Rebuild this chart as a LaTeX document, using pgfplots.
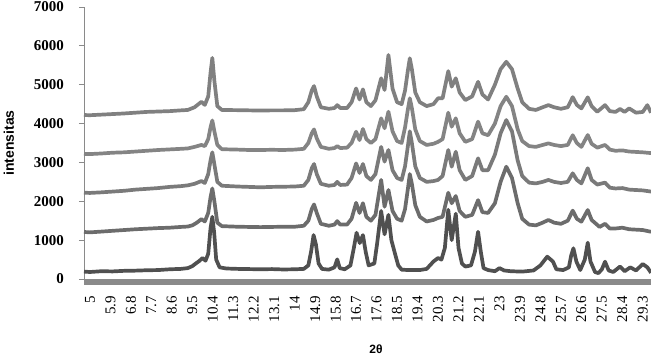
\documentclass[border=0pt]{standalone}
\usepackage{fontspec}
\setmainfont{Liberation Serif}
\setsansfont{Liberation Sans}
\usepackage{pgfplots}
\pgfplotsset{compat=1.18}
\definecolor{cA}{HTML}{505050}
\definecolor{cB}{HTML}{6C6C6C}
\definecolor{cC}{HTML}{7A7A7A}
\definecolor{cD}{HTML}{848484}
\definecolor{cE}{HTML}{808080}
\definecolor{cAx}{HTML}{8A8A8A}
\begin{document}
\begin{tikzpicture}
\path[use as bounding box] (-84pt,-79pt) rectangle (567pt,279pt);
\begin{axis}[
  at={(0,0)}, anchor=south west,
  scale only axis, width=567pt, height=272pt,
  xmin=4.74, xmax=29.66, ymin=0, ymax=7000,
  axis x line=bottom, axis y line=left,
  axis line style={-},
  x axis line style={-, line width=6pt, color=cAx, yshift=-3pt},
  y axis line style={-, line width=0.9pt, color=cAx},
  scaled y ticks=false,
  /pgf/number format/assume math mode=true,
  /pgf/number format/1000 sep={},
  ytick={0,1000,...,7000},
  ytick pos=left, tick align=outside,
  major tick length=5pt,
  ytick style={draw=cAx, line width=0.9pt},
  yticklabel style={font=\bfseries\fontsize{15}{15}\selectfont, anchor=east, inner sep=0pt, xshift=-15pt},
  xtick={5,5.9,6.8,7.7,8.6,9.5,10.4,11.3,12.2,13.1,14,14.9,15.8,16.7,17.6,18.5,19.4,20.3,21.2,22.1,23,23.9,24.8,25.7,26.6,27.5,28.4,29.3},
  xticklabels={5,5.9,6.8,7.7,8.6,9.5,10.4,11.3,12.2,13.1,14,14.9,15.8,16.7,17.6,18.5,19.4,20.3,21.2,22.1,23,23.9,24.8,25.7,26.6,27.5,28.4,29.3},
  xtick style={draw=none},
  xticklabel style={rotate=90, anchor=east, inner sep=0pt, font=\fontsize{15}{15}\selectfont, xshift=-12pt},
  ylabel={intensitas},
  ylabel style={font=\sffamily\bfseries\fontsize{14}{14}\selectfont, at={(axis description cs:-0.1323,0.5)}, anchor=center},
  xlabel={2θ},
  xlabel style={font=\sffamily\bfseries\fontsize{12}{12}\selectfont, inner sep=0pt, at={(axis description cs:0.515,-0.257)}, anchor=center},
  every axis plot/.append style={line width=3.7pt, line join=round, mark=none},
]
% S5
\addplot[cE] coordinates {(4.74,4220) (5,4215) (5.5,4230) (6,4245) (6.5,4260) (7,4280) (7.5,4300) (8,4310) (8.5,4320) (9,4340) (9.3,4350) (9.6,4420) (9.9,4560) (10.05,4480) (10.2,4700) (10.3,5300) (10.38,5690) (10.47,5100) (10.6,4450) (10.8,4350) (11.5,4345) (12,4340) (12.5,4335) (13,4340) (13.5,4340) (14,4345) (14.4,4370) (14.6,4550) (14.75,4850) (14.85,4965) (14.97,4700) (15.15,4420) (15.5,4380) (15.75,4400) (15.87,4475) (16.0,4400) (16.3,4400) (16.5,4550) (16.7,4905) (16.85,4620) (17.0,4880) (17.15,4550) (17.35,4450) (17.55,4600) (17.8,5165) (17.95,4865) (18.12,5765) (18.3,4900) (18.5,4550) (18.7,4500) (18.85,4850) (18.97,5350) (19.06,5680) (19.15,5400) (19.3,4800) (19.5,4550) (19.8,4450) (20.1,4500) (20.3,4650) (20.5,4650) (20.75,5350) (20.9,4950) (21.08,5165) (21.25,4800) (21.5,4605) (21.8,4700) (22.06,5075) (22.25,4750) (22.5,4620) (22.8,5000) (23.05,5400) (23.3,5590) (23.55,5400) (23.8,4900) (24.0,4550) (24.3,4380) (24.6,4350) (24.9,4420) (25.15,4475) (25.4,4420) (25.7,4380) (26.0,4420) (26.22,4680) (26.4,4480) (26.6,4390) (26.88,4675) (27.05,4450) (27.3,4305) (27.64,4475) (27.85,4320) (28.1,4300) (28.3,4375) (28.5,4300) (28.7,4390) (29.0,4280) (29.3,4300) (29.5,4475) (29.66,4280)};
% S4
\addplot[cD] coordinates {(4.74,3220) (5,3215) (5.5,3230) (6,3250) (6.5,3260) (7,3280) (7.5,3300) (8,3320) (8.5,3335) (9,3350) (9.3,3360) (9.6,3400) (9.9,3450) (10.05,3420) (10.2,3600) (10.3,3900) (10.38,4080) (10.47,3800) (10.6,3450) (10.8,3340) (11.5,3330) (12,3320) (12.5,3320) (13,3325) (13.5,3320) (14,3330) (14.4,3350) (14.6,3500) (14.75,3750) (14.85,3850) (14.97,3620) (15.15,3400) (15.5,3350) (15.75,3370) (15.87,3420) (16.0,3370) (16.3,3380) (16.5,3500) (16.7,3790) (16.85,3575) (17.0,3860) (17.15,3600) (17.35,3500) (17.55,3600) (17.8,4135) (17.95,3880) (18.12,4305) (18.3,3800) (18.5,3550) (18.7,3500) (18.85,3900) (18.97,4350) (19.06,4650) (19.15,4400) (19.3,3850) (19.5,3550) (19.8,3450) (20.1,3480) (20.3,3530) (20.5,3600) (20.75,4280) (20.9,3920) (21.08,4135) (21.25,3750) (21.5,3530) (21.8,3600) (22.06,4050) (22.25,3750) (22.5,3700) (22.8,4000) (23.05,4450) (23.3,4690) (23.55,4450) (23.8,3850) (24.0,3550) (24.3,3420) (24.6,3400) (24.9,3450) (25.15,3490) (25.4,3450) (25.7,3420) (26.0,3450) (26.22,3700) (26.4,3500) (26.6,3400) (26.88,3705) (27.05,3480) (27.3,3380) (27.64,3450) (27.85,3330) (28.1,3300) (28.4,3310) (28.7,3280) (29,3270) (29.3,3260) (29.66,3240)};
% S3
\addplot[cC] coordinates {(4.74,2220) (5,2215) (5.5,2230) (6,2250) (6.5,2270) (7,2300) (7.5,2320) (8,2340) (8.5,2370) (9,2390) (9.3,2410) (9.6,2450) (9.9,2520) (10.05,2470) (10.2,2700) (10.3,3050) (10.38,3260) (10.47,2950) (10.6,2500) (10.8,2400) (11.5,2380) (12,2370) (12.5,2360) (13,2370) (13.5,2375) (14,2380) (14.4,2400) (14.6,2550) (14.75,2850) (14.85,2960) (14.97,2700) (15.15,2450) (15.5,2400) (15.75,2420) (15.87,2500) (16.0,2420) (16.3,2430) (16.5,2600) (16.7,2975) (16.85,2730) (17.0,2960) (17.15,2650) (17.35,2550) (17.55,2700) (17.8,3400) (17.95,3020) (18.12,3320) (18.3,2800) (18.5,2600) (18.7,2550) (18.85,2900) (18.97,3400) (19.06,3800) (19.15,3500) (19.3,2900) (19.5,2600) (19.8,2500) (20.1,2520) (20.3,2550) (20.5,2650) (20.75,3320) (20.9,2890) (21.08,3275) (21.25,2800) (21.5,2550) (21.8,2650) (22.06,3105) (22.25,2800) (22.5,2800) (22.8,3200) (23.05,3750) (23.3,4090) (23.55,3800) (23.8,3050) (24.0,2650) (24.3,2480) (24.6,2460) (24.9,2500) (25.15,2550) (25.4,2500) (25.7,2470) (26.0,2500) (26.22,2720) (26.4,2550) (26.6,2460) (26.88,2850) (27.05,2550) (27.3,2430) (27.64,2480) (27.85,2350) (28.1,2330) (28.4,2340) (28.7,2300) (29,2290) (29.3,2280) (29.66,2250)};
% S2
\addplot[cB] coordinates {(4.74,1210) (5,1200) (5.5,1220) (6,1240) (6.5,1260) (7,1280) (7.5,1295) (8,1310) (8.5,1320) (9,1340) (9.3,1350) (9.5,1380) (9.7,1450) (9.9,1540) (10.05,1480) (10.2,1700) (10.3,2100) (10.38,2330) (10.47,2000) (10.6,1450) (10.8,1360) (11.5,1345) (12,1340) (12.5,1335) (13,1340) (13.5,1345) (14,1345) (14.4,1370) (14.6,1500) (14.75,1800) (14.85,1920) (14.97,1700) (15.15,1420) (15.5,1370) (15.75,1400) (15.87,1490) (16.0,1400) (16.3,1400) (16.5,1550) (16.7,1960) (16.85,1700) (17.0,1950) (17.15,1600) (17.35,1500) (17.55,1650) (17.8,2550) (17.95,1860) (18.12,2290) (18.3,1750) (18.5,1550) (18.7,1500) (18.85,1800) (18.97,2300) (19.06,2700) (19.15,2450) (19.3,1900) (19.5,1600) (19.8,1480) (20.1,1520) (20.3,1570) (20.5,1600) (20.75,2220) (20.9,1950) (21.08,2135) (21.25,1750) (21.5,1600) (21.8,1650) (22.06,2030) (22.25,1720) (22.5,1700) (22.8,1950) (23.05,2500) (23.3,2890) (23.55,2600) (23.8,1950) (24.0,1550) (24.3,1400) (24.6,1380) (24.9,1450) (25.15,1520) (25.4,1450) (25.7,1420) (26.0,1500) (26.22,1760) (26.4,1550) (26.6,1475) (26.88,1775) (27.05,1520) (27.4,1340) (27.64,1420) (27.85,1300) (28.1,1300) (28.4,1320) (28.7,1280) (29,1270) (29.3,1260) (29.66,1215)};
% S1
\addplot[cA] coordinates {(4.74,190) (5,180) (5.5,200) (6,195) (6.5,210) (7,215) (7.5,225) (8,230) (8.5,250) (9,260) (9.3,280) (9.5,330) (9.7,420) (9.8,460) (9.95,540) (10.08,470) (10.2,650) (10.3,1300) (10.38,1600) (10.46,1200) (10.55,500) (10.7,300) (11,270) (11.5,260) (12,255) (12.5,250) (13,255) (13.5,245) (14,250) (14.4,260) (14.6,350) (14.72,700) (14.83,1130) (14.93,900) (15.05,400) (15.2,260) (15.5,240) (15.75,300) (15.87,505) (15.98,280) (16.2,250) (16.45,350) (16.6,800) (16.72,1190) (16.86,925) (17.0,1130) (17.12,700) (17.25,350) (17.5,400) (17.62,900) (17.8,1750) (17.95,1150) (18.12,1650) (18.25,1000) (18.4,670) (18.55,350) (18.7,240) (19,230) (19.5,230) (19.8,260) (20.1,450) (20.3,540) (20.45,500) (20.6,800) (20.75,1780) (20.9,1000) (21.08,1680) (21.2,800) (21.35,400) (21.5,320) (21.75,350) (21.92,700) (22.06,1215) (22.18,700) (22.3,280) (22.5,230) (22.8,200) (23.0,280) (23.2,220) (23.5,200) (24,190) (24.5,220) (24.8,350) (25.1,575) (25.35,450) (25.5,250) (25.8,230) (26.05,300) (26.15,600) (26.25,790) (26.38,450) (26.55,230) (26.75,500) (26.88,935) (27.0,450) (27.2,180) (27.35,150) (27.5,250) (27.64,445) (27.8,220) (28.0,180) (28.3,320) (28.5,200) (28.75,300) (29.0,220) (29.3,385) (29.5,300) (29.66,160)};
\end{axis}
\end{tikzpicture}
\end{document}
